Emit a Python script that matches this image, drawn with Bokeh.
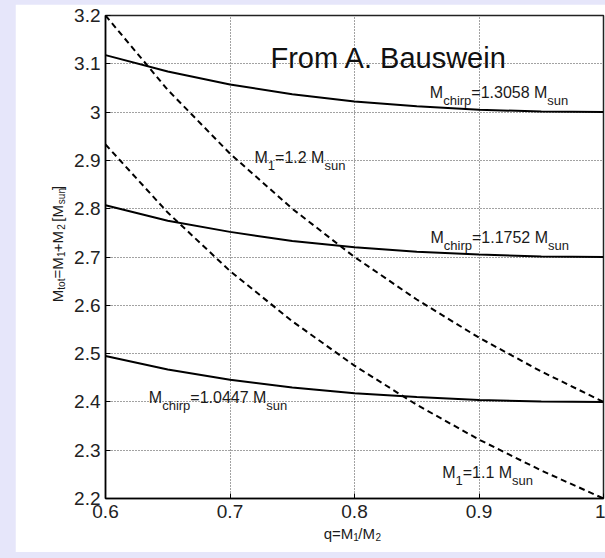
import math
from bokeh.plotting import figure
from bokeh.models import Range1d, FixedTicker, Label
from bokeh.layouts import column
from bokeh.embed import file_html
from bokeh.resources import INLINE

# ---------------- data ----------------
q = [0.60, 0.65, 0.70, 0.75, 0.80, 0.85, 0.90, 0.95, 1.00]

# constant chirp-mass curves (solid)
mtot_chirp_13058 = [3.118, 3.084, 3.057, 3.037, 3.022, 3.012, 3.005, 3.001, 3.000]
mtot_chirp_11752 = [2.807, 2.775, 2.752, 2.733, 2.720, 2.711, 2.705, 2.701, 2.700]
mtot_chirp_10447 = [2.495, 2.467, 2.446, 2.430, 2.418, 2.410, 2.404, 2.401, 2.400]

# constant M1 curves (dashed)
mtot_m1_12 = [3.200, 3.046, 2.914, 2.800, 2.700, 2.612, 2.533, 2.463, 2.400]
mtot_m1_11 = [2.933, 2.792, 2.671, 2.567, 2.475, 2.394, 2.322, 2.258, 2.200]

x_ticks = [0.6, 0.7, 0.8, 0.9, 1.0]
x_tick_labels = ["0.6", "0.7", "0.8", "0.9", "1"]
y_ticks = [2.2, 2.3, 2.4, 2.5, 2.6, 2.7, 2.8, 2.9, 3.0, 3.1, 3.2]
y_tick_labels = ["2.2", "2.3", "2.4", "2.5", "2.6", "2.7", "2.8", "2.9", "3", "3.1", "3.2"]

FONT = "Liberation Sans"
TXT = "#1a1a1a"

p = figure(frame_width=498, frame_height=483,
           min_border_left=90, min_border_right=2,
           min_border_top=11, min_border_bottom=54,
           x_range=Range1d(0.6, 1.0), y_range=Range1d(2.2, 3.2),
           output_backend="svg", toolbar_location=None,
           background_fill_color="white", border_fill_color="white",
           outline_line_color="#222222", outline_line_width=1.5)
p.margin = (4, 0, 6, 15)

for ax, ticks, labels, standoff in ((p.xaxis, x_ticks, x_tick_labels, 6),
                                    (p.yaxis, y_ticks, y_tick_labels, 5)):
    ax.ticker = FixedTicker(ticks=ticks)
    ax.major_label_overrides = {float(t): l for t, l in zip(ticks, labels)}
    ax.major_label_text_font = FONT
    ax.major_label_text_font_size = "19px"
    ax.major_label_text_color = "#222222"
    ax.major_label_standoff = standoff
    ax.major_tick_in = 5
    ax.major_tick_out = 0
    ax.minor_tick_in = 0
    ax.minor_tick_out = 0
    ax.axis_line_width = 1.5
    ax.axis_line_color = "black"
    ax.major_tick_line_color = "black"

p.xgrid.ticker = FixedTicker(ticks=x_ticks)
p.ygrid.ticker = FixedTicker(ticks=y_ticks)
for g in (p.xgrid, p.ygrid):
    g.grid_line_color = "#444444"
    g.grid_line_dash = "1 2"
    g.grid_line_width = 1

# curves
for ys in (mtot_chirp_13058, mtot_chirp_11752, mtot_chirp_10447):
    p.line(q, ys, line_color="black", line_width=2)
for ys in (mtot_m1_12, mtot_m1_11):
    p.line(q, ys, line_color="black", line_width=2, line_dash="6 4")

# ---------------- texts ----------------
CW = {"M": .833, "=": .584, "+": .584, ".": .278, " ": .278, "/": .278,
      "[": .278, "]": .278, "c": .5, "h": .556, "i": .222, "r": .333,
      "p": .556, "s": .5, "u": .556, "n": .556, "t": .278, "o": .556,
      "q": .556}


def tw(s, size):
    return sum(CW.get(c, .556) for c in s) * size


def lab(x, y, text, fs, dx=0.0, dy=0.0, angle=0.0, color=TXT):
    return Label(x=x, y=y, x_offset=dx, y_offset=dy, angle=angle, text=text,
                 text_font=FONT, text_font_size=f"{fs}px", text_color=color,
                 text_align="left", text_baseline="alphabetic")


def rich_label(x, y, parts, main=16, sub=13, sub_dy=-8):
    d = 0.0
    for text, is_sub in parts:
        fs = sub if is_sub else main
        p.add_layout(lab(x, y, text, fs, dx=d, dy=(sub_dy if is_sub else 0)))
        d += tw(text, fs)


# title inside the plot
p.add_layout(lab(0.7325, 3.113, "From A. Bauswein", 29, color="#111111"))

rich_label(0.8605, 3.0406, [("M", False), ("chirp", True), ("=1.3058 M", False), ("sun", True)])
rich_label(0.8610, 2.7410, [("M", False), ("chirp", True), ("=1.1752 M", False), ("sun", True)])
rich_label(0.6348, 2.4085, [("M", False), ("chirp", True), ("=1.0447 M", False), ("sun", True)])
rich_label(0.7197, 2.9066, [("M", False), ("1", True), ("=1.2 M", False), ("sun", True)])
rich_label(0.8704, 2.2532, [("M", False), ("1", True), ("=1.1 M", False), ("sun", True)])

# axis titles: kept in the side panels (not clipped to the frame).
# main line and subscript line are each one text; em-fraction spaces
# leave room for the other line's pieces.
EN, EM, THIRD, QUARTER, SIXTH = "\u2002", "\u2003", "\u2004", "\u2005", "\u2006"

# x title  "q=M_1/M_2"
p.add_layout(lab(0.7753, 2.1269, "q=M" + THIRD + "/M", 15), "below")
p.add_layout(lab(0.7753, 2.1269, "1" + EM + EN + SIXTH + "2", 10,
                 dx=tw("q=M", 15), dy=-4), "below")

# y title  "M_tot=M_1+M_2 [M_sun]" (rotated)
ymain = "M" + EN + QUARTER + "=M" + THIRD + "+M" + THIRD + " [M" + EM + "]"
ysub = "tot" + EM + EM + SIXTH + "1" + EM + EM + SIXTH + "2" + EM + EM + "sun"
p.add_layout(lab(0.5612, 2.6064, ymain, 15, angle=math.pi / 2), "left")
p.add_layout(lab(0.5612, 2.6064, ysub, 10, dx=4, dy=tw("M", 15),
                 angle=math.pi / 2), "left")

layout = column(p, styles={"background-color": "#E6E6FA"})
open("out.html", "w").write(file_html(layout, INLINE))
